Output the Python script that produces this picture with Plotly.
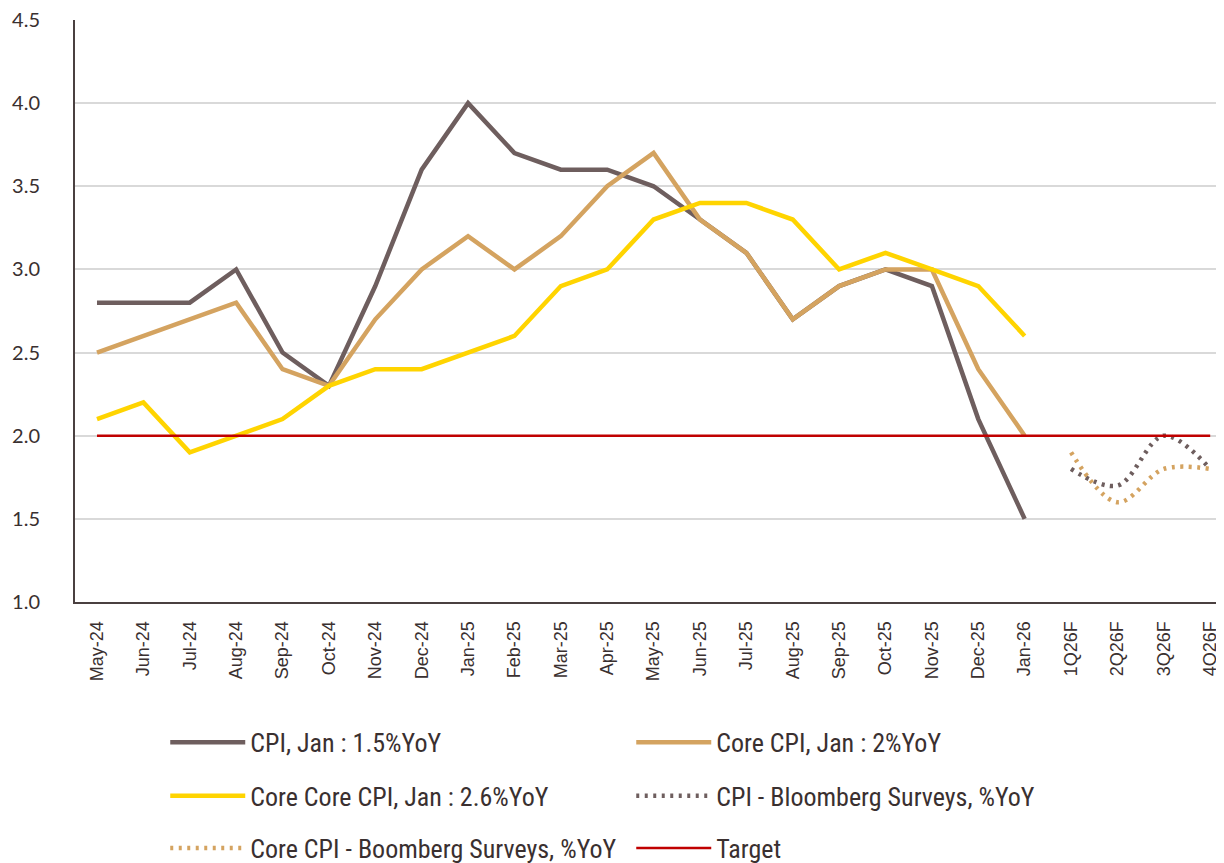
import plotly.graph_objects as go

months = ["May-24", "Jun-24", "Jul-24", "Aug-24", "Sep-24", "Oct-24", "Nov-24", "Dec-24",
          "Jan-25", "Feb-25", "Mar-25", "Apr-25", "May-25", "Jun-25", "Jul-25", "Aug-25",
          "Sep-25", "Oct-25", "Nov-25", "Dec-25", "Jan-26"]
quarters = ["1Q26F", "2Q26F", "3Q26F", "4Q26F"]
categories = months + quarters

cpi = [2.8, 2.8, 2.8, 3.0, 2.5, 2.3, 2.9, 3.6, 4.0, 3.7, 3.6, 3.6, 3.5, 3.3, 3.1, 2.7,
       2.9, 3.0, 2.9, 2.1, 1.5]
core_cpi = [2.5, 2.6, 2.7, 2.8, 2.4, 2.3, 2.7, 3.0, 3.2, 3.0, 3.2, 3.5, 3.7, 3.3, 3.1, 2.7,
            2.9, 3.0, 3.0, 2.4, 2.0]
core_core_cpi = [2.1, 2.2, 1.9, 2.0, 2.1, 2.3, 2.4, 2.4, 2.5, 2.6, 2.9, 3.0, 3.3, 3.4, 3.4, 3.3,
                 3.0, 3.1, 3.0, 2.9, 2.6]
cpi_survey = [1.8, 1.7, 2.0, 1.8]
core_survey = [1.9, 1.6, 1.8, 1.8]
target = [2.0] * len(categories)

C_CPI = "#6E5E5E"
C_CORE = "#D4A360"
C_CC = "#FFD400"
C_TGT = "#C00000"

xm = list(range(len(months)))
xq = list(range(len(months), len(categories)))
xall = list(range(len(categories)))

DOT = "3px,5.5px"

fig = go.Figure()
fig.add_trace(go.Scatter(x=xm, y=cpi, mode="lines", name="CPI, Jan : 1.5%YoY",
                         line=dict(color=C_CPI, width=4.5), legend="legend"))
fig.add_trace(go.Scatter(x=xm, y=core_cpi, mode="lines", name="Core CPI, Jan : 2%YoY",
                         line=dict(color=C_CORE, width=4.5), legend="legend"))
fig.add_trace(go.Scatter(x=xm, y=core_core_cpi, mode="lines", name="Core Core CPI, Jan : 2.6%YoY",
                         line=dict(color=C_CC, width=4.5), legend="legend2"))
fig.add_trace(go.Scatter(x=xq, y=cpi_survey, mode="lines", name="CPI - Bloomberg Surveys, %YoY",
                         line=dict(color=C_CPI, width=4.5, dash=DOT, shape="spline"),
                         legend="legend2"))
fig.add_trace(go.Scatter(x=xq, y=core_survey, mode="lines", name="Core CPI - Boomberg Surveys, %YoY",
                         line=dict(color=C_CORE, width=4.5, dash=DOT, shape="spline"),
                         legend="legend3"))
fig.add_trace(go.Scatter(x=xall, y=target, mode="lines", name="Target",
                         line=dict(color=C_TGT, width=2.5), legend="legend3"))

legend_common = dict(orientation="h", xanchor="left", yanchor="middle", x=0.078,
                     entrywidth=376, entrywidthmode="pixels", itemwidth=75,
                     bgcolor="rgba(0,0,0,0)", traceorder="normal",
                     font=dict(family="Liberation Sans Narrow, Roboto Condensed, Liberation Sans",
                               size=26, color="#3A3030"))

fig.update_layout(
    width=1224, height=863,
    margin=dict(l=67, r=0, t=12, b=269, autoexpand=False),
    paper_bgcolor="white", plot_bgcolor="white",
    showlegend=True,
    legend=dict(y=-0.241, **legend_common),
    legend2=dict(y=-0.333, **legend_common),
    legend3=dict(y=-0.423, **legend_common),
    xaxis=dict(range=[-0.474, 24.47], tickmode="array", tickvals=xall, ticktext=categories,
               tickangle=-90, showgrid=False, zeroline=False,
               showline=True, linecolor="#4A4040", linewidth=2, ticks="",
               ticklabelstandoff=10, ticklabeloverflow="allow",
               tickfont=dict(family="Liberation Sans, Arial", size=18, color="#3A3030")),
    yaxis=dict(range=[1.0, 4.5], tickvals=[1.0, 1.5, 2.0, 2.5, 3.0, 3.5, 4.0, 4.5],
               tickformat=".1f", showgrid=True, gridcolor="#D9D9D9", gridwidth=1.5,
               zeroline=False, showline=True, linecolor="#4A4040", linewidth=2, ticks="",
               ticklabeloverflow="allow",
               tickfont=dict(family="Lato, Liberation Sans", size=20, color="#3A3030"),
               ticklabelstandoff=29),
)

fig.write_html("out.html")
